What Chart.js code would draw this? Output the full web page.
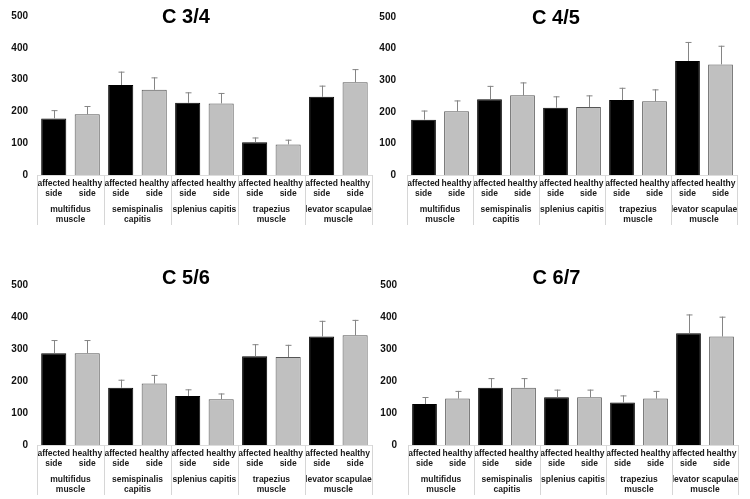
<!DOCTYPE html>
<html>
<head>
<meta charset="utf-8">
<script src="https://cdn.jsdelivr.net/npm/chart.js@4/dist/chart.umd.min.js"></script>
<style>
    html, body { margin: 0; padding: 0; background: #fff; }
    .page { position: relative; width: 750px; height: 499px; }
    .panel { position: absolute; }
</style>
</head>
<body>
<div class="page">
    <div class="panel" style="left:0;top:0;width:375px;height:250px"><canvas id="c34"></canvas></div>
    <div class="panel" style="left:375px;top:0;width:375px;height:250px"><canvas id="c45"></canvas></div>
    <div class="panel" style="left:0;top:250px;width:375px;height:249px"><canvas id="c56"></canvas></div>
    <div class="panel" style="left:375px;top:250px;width:375px;height:249px"><canvas id="c67"></canvas></div>
</div>
<script>
const muscleLabels = [
    ['multifidus', 'muscle'],
    ['semispinalis', 'capitis'],
    'splenius capitis',
    ['trapezius', 'muscle'],
    ['levator scapulae', 'muscle'],
];
const sideLabels = [
    ['affected', 'side'], ['healthy', 'side'],
    ['affected', 'side'], ['healthy', 'side'],
    ['affected', 'side'], ['healthy', 'side'],
    ['affected', 'side'], ['healthy', 'side'],
    ['affected', 'side'], ['healthy', 'side'],
];
const yMax = 500;
const yStep = 100;

// C 3/4
const c34Affected = [178, 283, 227, 103, 246];
const c34AffectedErr = [26, 42, 33, 15, 35];
const c34Healthy = [191, 268, 225, 96, 292];
const c34HealthyErr = [26, 39, 33, 15, 41];

// C 4/5
const c45Affected = [175, 240, 213, 237, 361];
const c45AffectedErr = [29, 42, 36, 39, 60];
const c45Healthy = [202, 252, 215, 233, 350];
const c45HealthyErr = [34, 41, 37, 38, 59];

// C 5/6
const c56Affected = [287, 179, 153, 277, 339];
const c56AffectedErr = [41, 25, 21, 38, 49];
const c56Healthy = [287, 192, 143, 275, 343];
const c56HealthyErr = [41, 27, 18, 38, 48];

// C 6/7
const c67Affected = [128, 179, 149, 133, 349];
const c67AffectedErr = [22, 30, 24, 22, 59];
const c67Healthy = [145, 179, 149, 145, 339];
const c67HealthyErr = [24, 30, 24, 24, 62];

const fontFamily = '"Liberation Sans", Arial, sans-serif';

// upward error bars drawn from each bar's top
const errorBarPlugin = {
    id: 'errorBars',
    afterDatasetsDraw(chart) {
        const { ctx, scales: { y } } = chart;
        ctx.save();
        ctx.strokeStyle = '#858585';
        ctx.lineWidth = 1;
        chart.data.datasets.forEach((dataset, di) => {
            const meta = chart.getDatasetMeta(di);
            meta.data.forEach((bar, i) => {
                const top = y.getPixelForValue(dataset.data[i] + dataset.errors[i]);
                const x = Math.round(bar.x) + 0.5;
                ctx.beginPath();
                ctx.moveTo(x, bar.y);
                ctx.lineTo(x, top);
                ctx.moveTo(x - 3, top + 0.5);
                ctx.lineTo(x + 3, top + 0.5);
                ctx.stroke();
            });
        });
        ctx.restore();
    },
};

// thin table-like separators between muscle groups under the axis
const separatorPlugin = {
    id: 'groupSeparators',
    afterDraw(chart) {
        const { ctx, chartArea, scales: { x } } = chart;
        const step = x.getPixelForValue(1) - x.getPixelForValue(0);
        const start = x.getPixelForValue(0) - step / 2;
        ctx.save();
        ctx.strokeStyle = '#d6d6d6';
        ctx.lineWidth = 1;
        for (let i = 0; i <= muscleLabels.length; i += 1) {
            const px = Math.round(start + i * step) + 0.5;
            ctx.beginPath();
            ctx.moveTo(px, chartArea.bottom);
            ctx.lineTo(px, x.bottom);
            ctx.stroke();
        }
        ctx.restore();
    },
};

function createPanel(canvasId, title, affected, affectedErr, healthy, healthyErr, geo) {
    const canvas = document.getElementById(canvasId);
    return new Chart(canvas.getContext('2d'), {
        type: 'bar',
        data: {
            labels: muscleLabels,
            datasets: [
                {
                    label: 'affected side',
                    data: affected,
                    errors: affectedErr,
                    xAxisID: 'x',
                    yAxisID: 'y',
                    backgroundColor: '#000000',
                    borderColor: '#000000',
                    borderWidth: 1,
                },
                {
                    label: 'healthy side',
                    data: healthy,
                    errors: healthyErr,
                    xAxisID: 'x',
                    yAxisID: 'y',
                    backgroundColor: '#c0c0c0',
                    borderColor: '#555555',
                    borderWidth: 1,
                },
            ],
        },
        options: {
            responsive: true,
            maintainAspectRatio: false,
            animation: false,
            datasets: {
                bar: {
                    categoryPercentage: 1,
                    barPercentage: 0.75,
                },
            },
            layout: {
                padding: { top: geo.chartTop, left: 0, right: geo.right, bottom: geo.bottom },
            },
            plugins: {
                legend: { display: false },
                tooltip: { enabled: false },
                title: {
                    display: true,
                    text: title,
                    color: '#000',
                    font: { family: fontFamily, size: 20, weight: 'bold', lineHeight: 1.2 },
                    // zero-height title box so it sits beside the top of the axis
                    padding: { top: geo.titleY - geo.chartTop - 12, bottom: geo.chartTop - geo.titleY - 12 },
                },
            },
            scales: {
                x: {
                    position: 'bottom',
                    weight: 1,
                    grid: { display: false, drawTicks: false },
                    border: { display: false },
                    ticks: {
                        autoSkip: false,
                        maxRotation: 0,
                        minRotation: 0,
                        padding: 3,
                        color: '#1a1a1a',
                        font: { family: fontFamily, size: 8.5, weight: 'bold', lineHeight: 1.18 },
                    },
                    afterFit(scale) {
                        scale.height = 23;
                    },
                },
                xSub: {
                    type: 'category',
                    position: 'bottom',
                    labels: sideLabels,
                    offset: true,
                    weight: 0,
                    grid: { display: false, drawTicks: false },
                    border: { display: true, color: '#dcdcdc' },
                    ticks: {
                        autoSkip: false,
                        maxRotation: 0,
                        minRotation: 0,
                        padding: 4,
                        color: '#1a1a1a',
                        font: { family: fontFamily, size: 8.5, weight: 'bold', lineHeight: 1.18 },
                    },
                    afterFit(scale) {
                        scale.height = 27;
                    },
                },
                y: {
                    min: 0,
                    max: yMax,
                    ticks: {
                        stepSize: yStep,
                        padding: geo.tickPad,
                        color: '#111',
                        font: { family: fontFamily, size: 10, weight: 'bold' },
                    },
                    grid: { display: false, drawTicks: false },
                    border: { display: false },
                    afterFit(scale) {
                        scale.width = geo.left;
                    },
                },
            },
        },
        plugins: [errorBarPlugin, separatorPlugin],
    });
}

createPanel('c34', 'C 3/4', c34Affected, c34AffectedErr, c34Healthy, c34HealthyErr,
    { left: 37, right: 3, chartTop: 16, titleY: 17, bottom: 25, tickPad: 9 });
createPanel('c45', 'C 4/5', c45Affected, c45AffectedErr, c45Healthy, c45HealthyErr,
    { left: 32, right: 13, chartTop: 16, titleY: 17, bottom: 25, tickPad: 11 });
createPanel('c56', 'C 5/6', c56Affected, c56AffectedErr, c56Healthy, c56HealthyErr,
    { left: 37, right: 3, chartTop: 35, titleY: 28, bottom: 4, tickPad: 9 });
createPanel('c67', 'C 6/7', c67Affected, c67AffectedErr, c67Healthy, c67HealthyErr,
    { left: 33, right: 12, chartTop: 35, titleY: 28, bottom: 4, tickPad: 11 });
</script>
</body>
</html>
